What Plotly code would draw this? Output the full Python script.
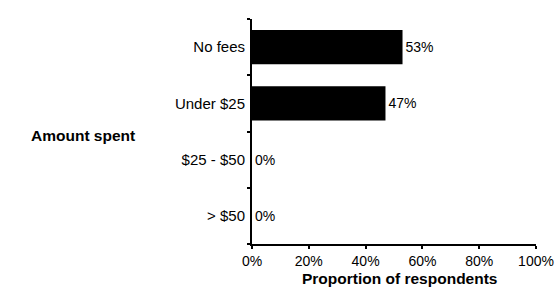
import plotly.graph_objects as go

categories = ["No fees", "Under $25", "$25 - $50", "> $50"]
values = [53, 47, 0, 0]
x_ticks = [0, 20, 40, 60, 80, 100]
x_tick_labels = ["0%", "20%", "40%", "60%", "80%", "100%"]

font = "Liberation Sans, Arial, sans-serif"

fig = go.Figure(go.Bar(
    y=categories, x=values, orientation="h",
    marker=dict(color="black", line=dict(width=0)),
    text=[f"{v}%" for v in values], textposition="outside",
    textfont=dict(family=font, size=14, color="black"),
    cliponaxis=False,
))

fig.update_layout(
    width=558, height=290,
    margin=dict(l=252, r=22, t=19, b=46, autoexpand=False),
    paper_bgcolor="white", plot_bgcolor="white",
    bargap=0.39, showlegend=False,
    font=dict(family=font, size=14, color="black"),
    xaxis=dict(range=[0, 100], tickvals=x_ticks, ticktext=x_tick_labels,
               showgrid=False, zeroline=False, showline=True,
               linecolor="black", linewidth=2, ticks="outside",
               ticklen=3, tickwidth=2, tickcolor="black",
               tickfont=dict(size=14), fixedrange=True),
    yaxis=dict(categoryorder="array", categoryarray=categories[::-1],
               showgrid=False, zeroline=False, showline=True,
               linecolor="black", linewidth=2, ticks="outside",
               tickson="boundaries", ticklen=3, tickwidth=2,
               tickcolor="black", tickfont=dict(size=15), ticklabelstandoff=2),
)

fig.add_annotation(text="<b>Amount spent</b>", xref="paper", yref="paper",
                   x=(83 - 252) / 284, y=(244 - 135) / 225, xanchor="center",
                   yanchor="middle", showarrow=False,
                   font=dict(family=font, size=15.5, color="black"))
fig.add_annotation(text="<b>Proportion of respondents</b>", xref="paper", yref="paper",
                   x=(399 - 252) / 284, y=(244 - 278) / 225, xanchor="center",
                   yanchor="middle", showarrow=False,
                   font=dict(family=font, size=15.5, color="black"))

fig.write_html("out.html", config={"displayModeBar": False},
               post_script="document.body.style.margin='0';document.body.style.overflow='hidden';")
